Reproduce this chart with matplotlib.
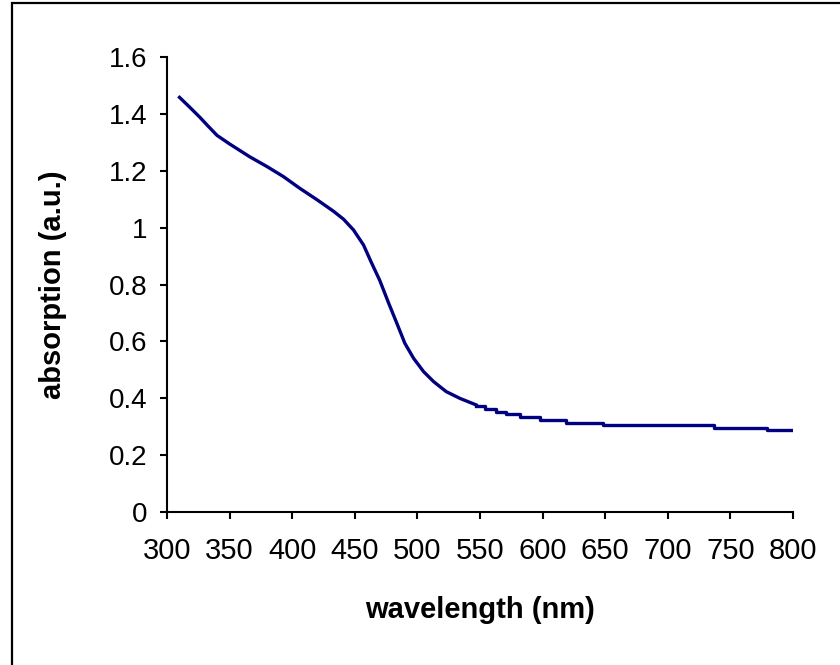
import matplotlib
matplotlib.use("Agg")
import matplotlib.pyplot as plt
from matplotlib.patches import Rectangle

plt.rcParams['font.family'] = ['Liberation Sans', 'DejaVu Sans']

# smooth part of the absorption spectrum
wavelength = [310, 318, 326, 333, 340, 350, 366, 380, 393, 406, 420, 433,
              441, 449, 457, 463, 470, 477, 483, 490, 497, 505, 513, 523,
              534, 547]
absorption = [1.459, 1.425, 1.39, 1.357, 1.325, 1.295, 1.25, 1.215, 1.18,
              1.139, 1.098, 1.058, 1.03, 0.992, 0.939, 0.88, 0.814, 0.735,
              0.67, 0.593, 0.54, 0.493, 0.458, 0.423, 0.399, 0.376]

# flat tail, stepped (instrument resolution)
tail_wavelength = [547, 554, 563, 571, 582, 598, 619, 648, 737, 779, 800]
tail_absorption = [0.372, 0.362, 0.352, 0.343, 0.333, 0.323, 0.313, 0.305,
                   0.296, 0.286, 0.286]

x_ticks = list(range(300, 801, 50))
y_ticks = [0, 0.2, 0.4, 0.6, 0.8, 1, 1.2, 1.4, 1.6]
y_tick_labels = ["0", "0.2", "0.4", "0.6", "0.8", "1", "1.2", "1.4", "1.6"]

fig = plt.figure(figsize=(8.4, 6.65), dpi=100)
ax = fig.add_axes([0.1988, 0.2305, 0.7452, 0.6833])

line_color = "#000080"
ax.plot(wavelength, absorption, color=line_color, lw=2.4)
ax.plot(tail_wavelength, tail_absorption, color=line_color, lw=2.4,
        drawstyle="steps-post")

ax.set_xlim(300, 800)
ax.set_ylim(0, 1.6)
ax.set_xticks(x_ticks)
ax.set_yticks(y_ticks)
ax.set_yticklabels(y_tick_labels)

for side in ("top", "right"):
    ax.spines[side].set_visible(False)
for side in ("left", "bottom"):
    ax.spines[side].set_linewidth(1.5)
ax.tick_params(direction="out", length=5.3, width=1.5)
ax.tick_params(axis="x", labelsize=21, pad=13)
ax.tick_params(axis="y", labelsize=20, pad=9)

ax.set_xlabel("wavelength (nm)", fontsize=21, fontweight="bold")
ax.set_ylabel("absorption (a.u.)", fontsize=21, fontweight="bold")
ax.xaxis.set_label_coords(0.5, -0.185)
ax.yaxis.set_label_coords(-0.16, 0.5)

# outer chart border (Excel chart area), right/bottom run off the image
fig.patches.append(Rectangle((12 / 840, -0.05), 1.0, 1.05 - 3 / 665,
                             transform=fig.transFigure, fill=False,
                             edgecolor="black", lw=1.6))

fig.savefig("out.png", dpi=100)
